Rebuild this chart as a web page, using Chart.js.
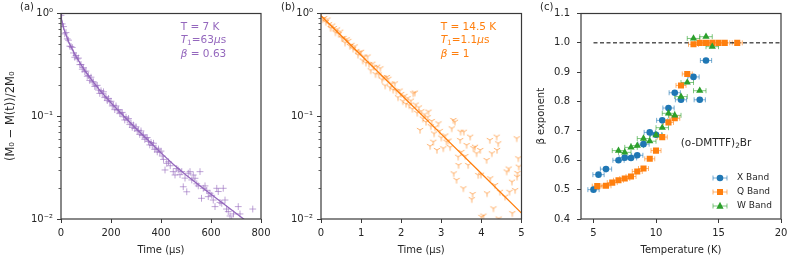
<!DOCTYPE html>
<html>
<head>
<meta charset="utf-8">
<script src="https://cdn.jsdelivr.net/npm/chart.js@4.4.1/dist/chart.umd.min.js"></script>
<style>
  body { margin: 0; background: #fff; }
  #wrap { position: relative; width: 793px; height: 264px; overflow: hidden; }
  canvas { position: absolute; top: 0; }
</style>
</head>
<body>
<div id="wrap">
  <canvas id="chartA" width="285" height="264" style="left:0"></canvas>
  <canvas id="chartB" width="265" height="264" style="left:270px"></canvas>
  <canvas id="chartC" width="273" height="264" style="left:520px"></canvas>
</div>
<script>
/* ---------- (a) T = 7 K : magnetisation recovery ---------- */
const timeA = [0,5,10,15,20,25,30,35,40,45,50,55,60,65,70,75,80,85,90,95,
  100,105,110,115,120,125,130,135,140,145,150,155,160,165,170,175,180,185,190,195,
  200,205,210,215,220,225,230,235,240,245,250,255,260,265,270,275,280,285,290,295,
  300,305,310,315,320,325,330,335,340,345,350,355,360,365,370,375,380,385,390,395,400,
  405,410,416,423,430,437,449,456,463,469,476,483,489,496,503,509,516,523,529,536,
  543,549,556,562,569,576,583,589,596,603,609,616,623,629,636,643,649,656,662,669,
  676,683,690,709,716,767];
const signalA = [0.96,0.792,0.746,0.634,0.653,0.566,0.550,0.481,0.477,0.467,
  0.413,0.375,0.390,0.361,0.368,0.318,0.319,0.287,0.297,0.271,
  0.275,0.245,0.249,0.223,0.240,0.216,0.216,0.195,0.198,0.200,
  0.180,0.167,0.177,0.167,0.173,0.152,0.155,0.142,0.149,0.138,
  0.140,0.126,0.128,0.116,0.126,0.115,0.116,0.106,0.108,0.109,
  0.099,0.092,0.098,0.092,0.095,0.083,0.086,0.078,0.082,0.076,
  0.079,0.072,0.073,0.0665,0.072,0.065,0.066,0.0595,0.0616,0.062,
  0.0568,0.0526,0.0556,0.052,0.0546,0.0475,0.049,0.045,0.048,0.0446,0.0458,
  0.041,0.038,0.030,0.0348,0.036,0.033,0.0289,0.0268,0.031,0.030,
  0.027,0.029,0.0206,0.025,0.0184,0.0279,0.0289,0.024,0.0268,0.0249,
  0.022,0.021,0.0289,0.0159,0.0199,0.021,0.019,0.0165,0.0178,0.017,
  0.0153,0.0132,0.0199,0.0185,0.0145,0.0142,0.0199,0.0153,0.0125,0.0118,
  0.0107,0.0098,0.0112,0.0132,0.0112,0.0125];
// stretched-exponential fit
const fitTimeA = [0,1,2.5,5,10,15,20,30,40,50,60,80,100,125,150,175,200,250,300,350,400,450,500,550,600,650,700,740];
const fitA = [1.0,0.93,0.88,0.82,0.73,0.67,0.62,0.535,0.475,0.425,0.383,0.318,0.268,0.222,0.186,0.158,0.135,0.101,0.076,0.058,0.044,0.034,0.0268,0.0215,0.0174,0.0141,0.0114,0.0096];

/* ---------- (b) T = 14.5 K ---------- */
const timeB = [0,0.04,0.08,0.12,0.16,0.2,0.24,0.28,0.32,0.36,0.4,0.44,0.48,0.52,0.56,0.6,0.64,0.68,0.72,0.76,
  0.8,0.84,0.88,0.92,0.96,1,1.04,1.08,1.12,1.16,1.2,1.24,1.28,1.32,1.36,1.4,1.44,1.48,1.52,1.56,
  1.6,1.64,1.68,1.72,1.76,1.8,1.84,1.88,1.92,1.96,2,
  2.04,2.08,2.12,2.16,2.2,2.24,2.28,2.3,2.34,2.36,2.4,2.44,2.47,2.5,2.54,2.58,2.62,2.66,2.68,2.72,
  2.74,2.76,2.8,2.82,2.84,2.89,2.93,2.96,3,3.05,3.1,3.13,3.18,3.22,3.26,3.3,3.31,3.34,3.38,3.42,
  3.43,3.47,3.48,3.5,3.55,3.56,3.6,3.63,3.67,3.72,3.76,3.78,3.8,3.84,3.88,3.92,3.97,3.99,4,4.05,
  4.13,4.14,4.21,4.22,4.26,4.3,4.34,4.38,4.39,4.42,4.43,4.46,4.59,4.63,4.68,4.7,4.76,4.77,4.84,4.88,
  4.89,4.9,4.92,4.93];
const signalB = [0.988,0.880,0.903,0.828,0.875,0.788,0.723,0.764,0.723,0.656,
  0.700,0.631,0.666,0.576,0.579,0.520,0.562,0.542,0.483,0.496,
  0.455,0.479,0.433,0.397,0.419,0.424,0.349,0.381,0.332,0.382,
  0.322,0.280,0.325,0.302,0.257,0.304,0.255,0.293,0.228,0.239,
  0.199,0.241,0.232,0.191,0.208,0.181,0.209,0.176,0.153,0.178,0.165,
  0.140,0.158,0.132,0.150,0.128,0.142,0.118,0.167,0.170,0.130,0.108,0.122,0.0735,0.112,0.095,0.104,0.088,0.098,0.111,0.0513,
  0.080,0.090,0.0565,0.068,0.078,0.047,0.0853,0.072,0.062,0.0488,0.065,0.0565,0.058,0.050,0.0763,0.092,0.0278,0.0885,0.024,0.0404,
  0.0335,0.0587,0.0707,0.045,0.0199,0.0707,0.041,0.0525,0.0335,0.0633,0.0156,0.0175,0.049,0.0505,0.0436,0.0268,0.047,0.027,0.0105,0.0108,
  0.0375,0.0178,0.0587,0.0249,0.0436,0.0127,0.0214,0.0633,0.047,0.0546,0.0101,0.0184,0.0165,0.029,0.031,0.0184,0.0231,0.0114,0.0191,0.061,
  0.0258,0.028,0.039,0.0323];
const fitTimeB = [0,1,2,3,4,5];
const fitB = [0.95,0.393,0.162,0.067,0.0277,0.0114];

/* ---------- (c) beta exponent vs temperature ---------- */
const tempX = [5,5.4,6,7,7.5,8,8.5,9,9.5,10,10.5,11,11.5,12,13,13.5,14];
const betaX = [0.500,0.551,0.570,0.600,0.609,0.608,0.617,0.655,0.695,0.687,0.736,0.778,0.830,0.806,0.884,0.806,0.940];
const errX  = [0.45,0.45,0.45,0.45,0.45,0.45,0.45,0.45,0.45,0.45,0.45,0.45,0.45,0.45,0.45,0.45,0.45];
const tempQ = [5.3,6,6.5,7,7.5,8,8.5,9,9.5,10,10.5,11,11.5,12,12.5,13,13.5,14,14.5,15,15.5,16.5];
const betaQ = [0.512,0.513,0.524,0.532,0.538,0.545,0.562,0.572,0.605,0.633,0.679,0.729,0.743,0.855,0.894,0.995,1.0,1.0,1.0,1.0,1.0,1.0];
const errQ  = [0.4,0.4,0.4,0.4,0.4,0.4,0.4,0.4,0.4,0.4,0.4,0.4,0.4,0.4,0.4,0.4,0.4,0.4,0.4,0.4,0.4,0.4];
const tempW = [7,7.5,8,8.5,9,9.5,10,10.5,11,11.5,12,12.5,13,13.5,14,14.5];
const betaW = [0.633,0.627,0.644,0.650,0.674,0.665,0.686,0.711,0.760,0.753,0.817,0.865,1.015,0.837,1.021,0.987];
const errW  = [0.5,0.5,0.5,0.5,0.5,0.5,0.5,0.5,0.5,0.5,0.5,0.5,0.5,0.5,0.5,0.5];
const refT = [5, 20];
const refBeta = [1, 1];

/* ---------- tick labels ---------- */
const logTicks = [0.01, 0.1, 1];
const logTickLabels = ['10⁻²', '10⁻¹', '10⁰'];
const minorLogTicks = [0.02,0.03,0.04,0.05,0.06,0.07,0.08,0.09,0.2,0.3,0.4,0.5,0.6,0.7,0.8,0.9];
const xTicksA = [0, 200, 400, 600, 800];
const xTicksB = [0, 1, 2, 3, 4, 5];
const xTicksC = [5, 10, 15, 20];
const yTicksC = [0.4, 0.5, 0.6, 0.7, 0.8, 0.9, 1.0, 1.1];
const yTickLabelsC = ['0.4', '0.5', '0.6', '0.7', '0.8', '0.9', '1.0', '1.1'];

const INK = '#262626';
const FRAME = '#3a3a3a';
const FAMILY = '"DejaVu Sans", sans-serif';
const PURPLE = '#9467bd', ORANGE = '#ff7f0e', BLUE = '#1f77b4', GREEN = '#2ca02c';

Chart.defaults.font.family = FAMILY;
Chart.defaults.font.size = 10;
Chart.defaults.color = INK;

const pts = (xs, ys) => xs.map((x, i) => ({ x, y: ys[i] }));

// matplotlib "tri_down" marker (a little Y)
function triDown(color) {
    const c = document.createElement('canvas');
    c.width = 10; c.height = 10;
    const g = c.getContext('2d');
    g.strokeStyle = color;
    g.lineWidth = 1;
    const r = 3.6;
    g.beginPath();
    g.moveTo(5, 5); g.lineTo(5, 5 + r);
    g.moveTo(5, 5); g.lineTo(5 - r * 0.87, 5 - r * 0.5);
    g.moveTo(5, 5); g.lineTo(5 + r * 0.87, 5 - r * 0.5);
    g.stroke();
    return c;
}

function drawRich(ctx, parts, x, y, color, size) {
    let cx = x;
    ctx.fillStyle = color;
    ctx.textAlign = 'left';
    ctx.textBaseline = 'middle';
    parts.forEach(([txt, st]) => {
        const sz = st === 's' ? size * 0.7 : size;
        ctx.font = (st === 'i' ? 'italic ' : '') + sz + 'px ' + FAMILY;
        ctx.fillText(txt, cx, st === 's' ? y + size * 0.28 : y);
        cx += ctx.measureText(txt).width;
    });
}

function drawMarker(ctx, style, x, y, r) {
    ctx.beginPath();
    if (style === 'circle') {
        ctx.arc(x, y, r, 0, Math.PI * 2);
    } else if (style === 'rect') {
        ctx.rect(x - r, y - r, 2 * r, 2 * r);
    } else {
        ctx.moveTo(x, y - r * 1.15);
        ctx.lineTo(x + r, y + r * 0.75);
        ctx.lineTo(x - r, y + r * 0.75);
        ctx.closePath();
    }
    ctx.fill();
}

// frame, minor ticks, panel letter, in-plot notes, error bars, legend
function decor(cfg) {
    return {
        id: 'decor',
        beforeDatasetsDraw(chart) {
            if (!cfg.errorBars) return;
            const { ctx, scales: { x, y } } = chart;
            ctx.save();
            ctx.lineWidth = 1;
            chart.data.datasets.forEach(ds => {
                if (!ds.xErr) return;
                ctx.strokeStyle = ds.errColor;
                ds.data.forEach((p, i) => {
                    const py = y.getPixelForValue(p.y);
                    const x0 = x.getPixelForValue(p.x - ds.xErr[i]);
                    const x1 = x.getPixelForValue(p.x + ds.xErr[i]);
                    ctx.beginPath();
                    ctx.moveTo(x0, py); ctx.lineTo(x1, py);
                    ctx.moveTo(x0, py - 2.5); ctx.lineTo(x0, py + 2.5);
                    ctx.moveTo(x1, py - 2.5); ctx.lineTo(x1, py + 2.5);
                    ctx.stroke();
                });
            });
            ctx.restore();
        },
        afterDraw(chart) {
            const { ctx, chartArea: a } = chart;
            ctx.save();
            if (cfg.minor) {
                const y = chart.scales.y;
                ctx.strokeStyle = FRAME;
                ctx.lineWidth = 0.8;
                cfg.minor.forEach(v => {
                    const py = Math.round(y.getPixelForValue(v)) + 0.5;
                    ctx.beginPath();
                    ctx.moveTo(a.left, py); ctx.lineTo(a.left - 2.5, py);
                    ctx.stroke();
                });
            }
            ctx.strokeStyle = FRAME;
            ctx.lineWidth = 1.2;
            ctx.strokeRect(a.left, a.top, a.right - a.left, a.bottom - a.top);

            drawRich(ctx, [[cfg.label, 'n']], cfg.labelX, 7, INK, 10);
            (cfg.notes || []).forEach(n => drawRich(ctx, n.parts, a.left + n.dx, a.top + n.dy, n.color, n.size));

            if (cfg.legend) {
                cfg.legend.forEach((it, k) => {
                    const lx = a.left + 139, ly = a.top + 164.5 + k * 14;
                    ctx.strokeStyle = it.err;
                    ctx.lineWidth = 1;
                    ctx.beginPath();
                    ctx.moveTo(lx - 7, ly); ctx.lineTo(lx + 7, ly);
                    ctx.moveTo(lx - 7, ly - 2.5); ctx.lineTo(lx - 7, ly + 2.5);
                    ctx.moveTo(lx + 7, ly - 2.5); ctx.lineTo(lx + 7, ly + 2.5);
                    ctx.stroke();
                    ctx.fillStyle = it.color;
                    drawMarker(ctx, it.style, lx, ly, it.r);
                    drawRich(ctx, [[it.text, 'n']], a.left + 156, ly, INK, 9);
                });
            }
            ctx.restore();
        }
    };
}

function xAxis(min, max, ticks, title) {
    return {
        type: 'linear', min, max,
        afterBuildTicks: s => { s.ticks = ticks.map(v => ({ value: v })); },
        afterFit: s => { s.height = 45; },
        border: { display: false },
        grid: { drawOnChartArea: false, tickLength: 4, tickColor: FRAME, tickWidth: 1 },
        ticks: { padding: 4, color: INK, maxRotation: 0, autoSkip: false, callback: v => String(v) },
        title: { display: true, text: title, color: INK, padding: { top: 0, bottom: 8 } }
    };
}

function yAxis(type, min, max, ticks, labels, width, tickPad, title, titlePad, titleSize) {
    return {
        type, min, max,
        afterBuildTicks: s => { s.ticks = ticks.map(v => ({ value: v })); },
        afterFit: s => { s.width = width; },
        border: { display: false },
        grid: { drawOnChartArea: false, tickLength: 4, tickColor: FRAME, tickWidth: 1 },
        ticks: { padding: tickPad, color: INK, autoSkip: false, callback: (v, i) => labels[i] },
        title: { display: !!title, text: title || '', color: INK, font: { size: titleSize || 10 },
                 padding: { top: titlePad || 0, bottom: 0 } }
    };
}

const baseOptions = (scales, right) => ({
    responsive: false,
    animation: false,
    devicePixelRatio: 1,
    events: [],
    layout: { padding: { left: 0, top: 13.5, right, bottom: 0 } },
    plugins: { legend: { display: false }, tooltip: { enabled: false } },
    scales
});

/* ---------- panel (a) ---------- */
new Chart(document.getElementById('chartA'), {
    type: 'scatter',
    data: {
        datasets: [
            { data: pts(fitTimeA, fitA), showLine: true, pointRadius: 0, borderColor: PURPLE, borderWidth: 1.3, order: 1 },
            { data: pts(timeA, signalA), pointStyle: 'cross', pointRadius: 3.4, borderWidth: 1,
              borderColor: 'rgba(148,103,189,0.6)', backgroundColor: 'rgba(148,103,189,0.6)', order: 2 }
        ]
    },
    options: baseOptions({
        x: xAxis(0, 800, xTicksA, 'Time (μs)'),
        y: yAxis('logarithmic', 0.01, 1, logTicks, logTickLabels, 61, 4, '(M₀ − M(t))/2M₀', 4, 11.5)
    }, 24),
    plugins: [decor({
        label: '(a)', labelX: 20, minor: minorLogTicks,
        notes: [
            { dx: 119.7, dy: 14, color: PURPLE, size: 10.5, parts: [['T = 7 K', 'n']] },
            { dx: 119.7, dy: 27, color: PURPLE, size: 10.5, parts: [['T', 'i'], ['1', 's'], ['=63', 'n'], ['μ', 'i'], ['s', 'n']] },
            { dx: 119.7, dy: 40.5, color: PURPLE, size: 10.5, parts: [['β', 'i'], [' = 0.63', 'n']] }
        ]
    })]
});

/* ---------- panel (b) ---------- */
const triOrange = triDown('rgba(255,127,14,0.6)');
new Chart(document.getElementById('chartB'), {
    type: 'scatter',
    data: {
        datasets: [
            { data: pts(fitTimeB, fitB), showLine: true, pointRadius: 0, borderColor: ORANGE, borderWidth: 1.3, order: 1 },
            { data: pts(timeB, signalB), pointStyle: triOrange, pointRadius: 4, order: 2 }
        ]
    },
    options: baseOptions({
        x: xAxis(0, 5, xTicksB, 'Time (μs)'),
        y: yAxis('logarithmic', 0.01, 1, logTicks, logTickLabels, 51, 4)
    }, 13.5),
    plugins: [decor({
        label: '(b)', labelX: 11, minor: minorLogTicks,
        notes: [
            { dx: 119.7, dy: 14, color: ORANGE, size: 10.5, parts: [['T = 14.5 K', 'n']] },
            { dx: 119.7, dy: 27, color: ORANGE, size: 10.5, parts: [['T', 'i'], ['1', 's'], ['=1.1', 'n'], ['μ', 'i'], ['s', 'n']] },
            { dx: 119.7, dy: 40.5, color: ORANGE, size: 10.5, parts: [['β', 'i'], [' = 1', 'n']] }
        ]
    })]
});

/* ---------- panel (c) ---------- */
new Chart(document.getElementById('chartC'), {
    type: 'scatter',
    data: {
        datasets: [
            { label: 'W Band', data: pts(tempW, betaW), xErr: errW, errColor: 'rgba(44,160,44,0.6)',
              pointStyle: 'triangle', pointRadius: 4.2, backgroundColor: GREEN, borderColor: GREEN, borderWidth: 0, order: 1 },
            { label: 'Q Band', data: pts(tempQ, betaQ), xErr: errQ, errColor: 'rgba(255,127,14,0.6)',
              pointStyle: 'rect', pointRadius: 4.3, backgroundColor: ORANGE, borderColor: ORANGE, borderWidth: 0, order: 2 },
            { label: 'X Band', data: pts(tempX, betaX), xErr: errX, errColor: 'rgba(31,119,180,0.6)',
              pointStyle: 'circle', pointRadius: 3.3, backgroundColor: BLUE, borderColor: BLUE, borderWidth: 0, order: 3 },
            { data: pts(refT, refBeta), showLine: true, pointRadius: 0, borderColor: '#000', borderWidth: 1,
              borderDash: [4, 2.5], order: 4 }
        ]
    },
    options: baseOptions({
        x: xAxis(4, 20, xTicksC, 'Temperature (K)'),
        y: yAxis('linear', 0.4, 1.1, yTicksC, yTickLabelsC, 61, 7, 'β exponent', 15)
    }, 12),
    plugins: [decor({
        label: '(c)', labelX: 20, errorBars: true,
        notes: [
            { dx: 99.7, dy: 129.5, color: INK, size: 10.5, parts: [['(o-DMTTF)', 'n'], ['2', 's'], ['Br', 'n']] }
        ],
        legend: [
            { text: 'X Band', style: 'circle', r: 3.3, color: BLUE, err: 'rgba(31,119,180,0.6)' },
            { text: 'Q Band', style: 'rect', r: 3, color: ORANGE, err: 'rgba(255,127,14,0.6)' },
            { text: 'W Band', style: 'tri', r: 3.6, color: GREEN, err: 'rgba(44,160,44,0.6)' }
        ]
    })]
});
</script>
</body>
</html>
